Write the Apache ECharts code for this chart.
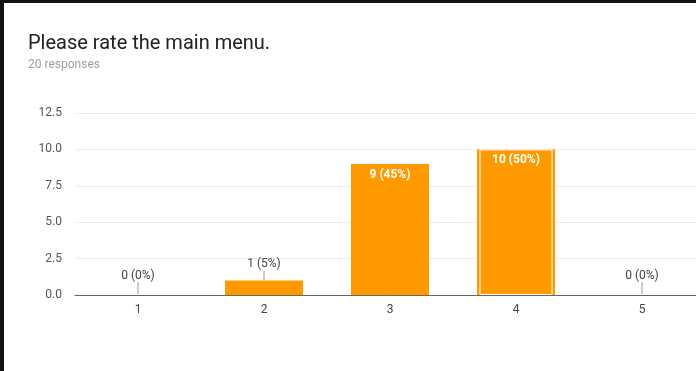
<!DOCTYPE html>
<html>
<head>
<meta charset="utf-8"/>
<title>Please rate the main menu.</title>
<script src="https://cdn.jsdelivr.net/npm/echarts@6/dist/echarts.min.js"></script>
<style>
	html, body { margin: 0; padding: 0; background: #111; width: 696px; height: 371px; overflow: hidden; }
	#chart { position: absolute; left: 4px; top: 3px; width: 692px; height: 368px; background: #fff; }
</style>
</head>
<body>
<div id="chart"></div>
<script>
	var categories = ['1', '2', '3', '4', '5'];
	var counts = [0, 1, 9, 10, 0];
	var highlighted = [null, null, null, 10, null];
	var yTicks = { min: 0, max: 12.5, interval: 2.5 };

	var total = counts.reduce(function (a, b) { return a + b; }, 0);

	var barData = counts.map(function (v) {
		var pct = Math.round(v / total * 100);
		var text = v + ' (' + pct + '%)';
		if (v >= 2) {
			return {
				value: v,
				label: {
					show: true,
					position: 'insideTop',
					distance: 5,
					color: '#fff',
					fontWeight: 'bold',
					fontSize: 12,
					fontFamily: 'Roboto',
					formatter: text
				}
			};
		}
		// small values: label above with a thin leader line
		return {
			value: v,
			label: {
				show: true,
				position: 'top',
				distance: v === 0 ? 1 : 0,
				formatter: '{t|' + text + '}\n{l|}',
				rich: {
					t: { color: '#444', fontSize: 12, fontFamily: 'Roboto', lineHeight: 12, align: 'center' },
					l: { width: 1, height: v === 0 ? 12 : 10, backgroundColor: '#999', align: 'center' }
				}
			}
		};
	});

	var chart = echarts.init(document.getElementById('chart'));
	chart.setOption({
		animation: false,
		title: {
			text: 'Please rate the main menu.',
			subtext: '20 responses',
			left: 24,
			top: 31,
			padding: 0,
			itemGap: 5,
			textStyle: { fontFamily: 'Roboto', fontSize: 20, fontWeight: 'normal', color: '#212121' },
			subtextStyle: { fontFamily: 'Roboto', fontSize: 12, color: '#9e9e9e' }
		},
		grid: { left: 71, width: 630, top: 110, bottom: 76, outerBoundsMode: 'none' },
		xAxis: [{
			type: 'category',
			data: categories,
			axisTick: { show: false },
			axisLine: { lineStyle: { color: '#666', width: 1 } },
			axisLabel: { color: '#444', fontSize: 12, fontFamily: 'Roboto', margin: 9 }
		}, {
			type: 'category',
			data: categories,
			show: false
		}],
		yAxis: {
			type: 'value',
			min: yTicks.min,
			max: yTicks.max,
			interval: yTicks.interval,
			axisLine: { show: false },
			axisTick: { show: false },
			splitLine: { lineStyle: { color: '#ebebeb' } },
			axisLabel: {
				color: '#555', fontSize: 12, fontFamily: 'Roboto', margin: 13,
				formatter: function (v) { return v.toFixed(1); }
			}
		},
		series: [{
			type: 'bar',
			data: barData,
			barWidth: 78,
			itemStyle: { color: '#ff9900' }
		}, {
			type: 'bar',
			xAxisIndex: 1,
			data: highlighted,
			barWidth: 73,
			silent: true,
			z: 3,
			itemStyle: { color: 'transparent', borderColor: '#fff', borderWidth: 1 }
		}]
	});
</script>
</body>
</html>
